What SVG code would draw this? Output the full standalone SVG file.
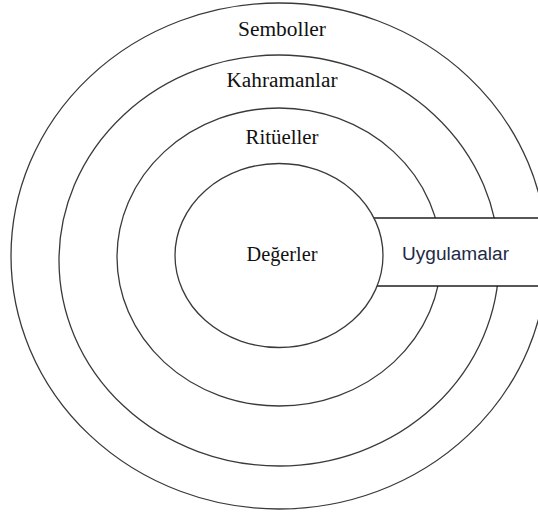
<svg xmlns="http://www.w3.org/2000/svg" width="538" height="513" viewBox="0 0 538 513">
<style>
.ring{fill:none;stroke:#3a3a3a;stroke-width:1.3}
.core{fill:#ffffff;stroke:#3a3a3a;stroke-width:1.3}
.lbl{font-family:"Liberation Serif","Times New Roman",serif;font-size:20px;fill:#111;text-anchor:middle}
.box{fill:#ffffff;stroke:#111;stroke-width:1.4}
.blbl{font-family:"Liberation Sans",Arial,sans-serif;font-size:18px;fill:#1f2a48;text-anchor:middle}
</style>
<rect width="538" height="513" fill="#ffffff"/>
<g id="semboller">
<ellipse class="ring" cx="279" cy="256" rx="268" ry="253"/>
<text class="lbl" x="282" y="36" textLength="88" lengthAdjust="spacingAndGlyphs">Semboller</text>
</g>
<g id="kahramanlar">
<ellipse class="ring" cx="279" cy="260.5" rx="220" ry="205.5"/>
<text class="lbl" x="282" y="87" textLength="111" lengthAdjust="spacingAndGlyphs">Kahramanlar</text>
</g>
<g id="ritueller">
<ellipse class="ring" cx="279" cy="257" rx="162" ry="149"/>
<text class="lbl" x="282" y="144" textLength="73" lengthAdjust="spacingAndGlyphs">Ritüeller</text>
</g>
<g id="uygulamalar">
<rect class="box" x="360" y="218" width="190" height="68"/>
<text class="blbl" x="455.5" y="260" textLength="107" lengthAdjust="spacingAndGlyphs">Uygulamalar</text>
</g>
<g id="degerler">
<ellipse class="core" cx="279" cy="255.5" rx="104" ry="92"/>
<text class="lbl" x="282" y="261" textLength="71" lengthAdjust="spacingAndGlyphs">Değerler</text>
</g>
<g id="connectors"></g>
</svg>
